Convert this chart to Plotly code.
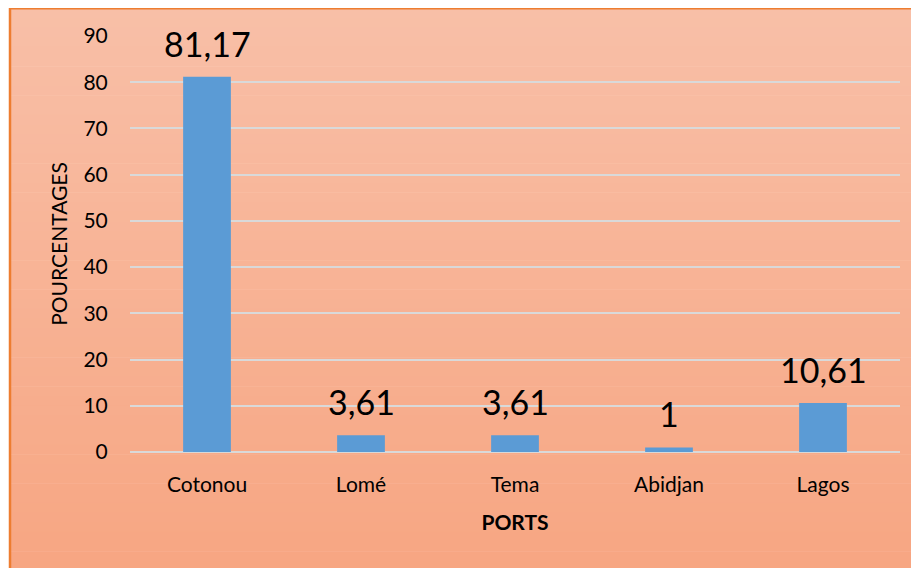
import plotly.graph_objects as go

ports = ["Cotonou", "Lomé", "Tema", "Abidjan", "Lagos"]
pourcentages = [81.17, 3.61, 3.61, 1, 10.61]
y_ticks = [0, 10, 20, 30, 40, 50, 60, 70, 80, 90]

OFF = 8  # page body margin
W, H = 919, 568
L, R, T, B = 130 - OFF, W - (900 - OFF), 36 - OFF, H - (452 - OFF)
pw, ph = W - L - R, H - T - B

def px(x):  # screen px -> paper
    return (x - OFF - L) / pw

def py(y):
    return (H - B - (y - OFF)) / ph

fig = go.Figure()
fig.add_trace(go.Bar(x=ports, y=pourcentages, marker=dict(color="#5B9BD5", line=dict(width=0)),
                     width=0.31, hoverinfo="x+y"))

for p, v in zip(ports, pourcentages):
    fig.add_annotation(x=p, y=v, text=f"{v:g}".replace(".", ","), showarrow=False,
                       yanchor="bottom", yshift=11,
                       font=dict(family="Lato, Carlito, sans-serif", size=34, color="#000000"))

# gradient background box
shapes = []
top_c = (248, 191, 167)
bot_c = (247, 165, 129)
x0, x1 = px(9), px(940)
ytop, ybot = 8, 590
n = 60
for i in range(n):
    a = ytop + (ybot - ytop) * i / n
    b = ytop + (ybot - ytop) * (i + 1) / n + 0.5
    t = i / (n - 1)
    c = tuple(round(top_c[k] + (bot_c[k] - top_c[k]) * t) for k in range(3))
    shapes.append(dict(type="rect", xref="paper", yref="paper", x0=x0, x1=x1, y0=py(b), y1=py(a),
                       fillcolor=f"rgb{c}", line=dict(width=0), layer="below"))
shapes.append(dict(type="rect", xref="paper", yref="paper", x0=px(10), x1=px(940), y0=py(590), y1=py(8.2),
                   fillcolor="rgba(0,0,0,0)", line=dict(color="#ED7D31", width=2.5), layer="below"))

fig.update_layout(
    width=W, height=H,
    margin=dict(l=L, r=R, t=T, b=B),
    paper_bgcolor="white", plot_bgcolor="rgba(0,0,0,0)",
    shapes=shapes, showlegend=False,
    font=dict(family="Lato, Carlito, sans-serif", color="#000000"),
    xaxis=dict(showgrid=False, zeroline=False, showline=False,
               ticks="outside", ticklen=14, tickcolor="rgba(0,0,0,0)",
               tickfont=dict(size=21),
               title=dict(text="<b>PORTS</b>", font=dict(size=21), standoff=20)),
    yaxis=dict(range=[0, 90], tickvals=y_ticks, showgrid=True, gridcolor="#D9D9D9", gridwidth=2,
               zeroline=True, zerolinecolor="#D9D9D9", zerolinewidth=2, showline=False,
               ticks="outside", ticklen=17, tickcolor="rgba(0,0,0,0)",
               tickfont=dict(size=21),
               title=dict(text="POURCENTAGES", font=dict(size=21), standoff=10)),
)

fig.write_html("out.html")
